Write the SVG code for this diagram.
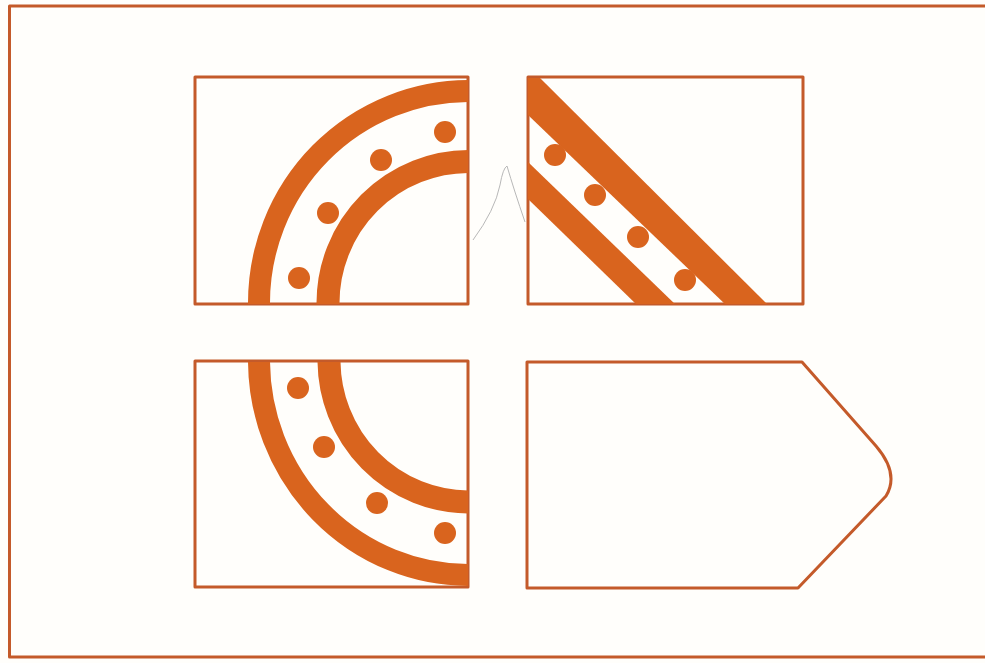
<svg xmlns="http://www.w3.org/2000/svg" width="985" height="663" viewBox="0 0 985 663">
<defs>
<style>
.frame{fill:none;stroke:#c45a2a;stroke-width:3;stroke-linejoin:round}
.box{fill:#fffefb;stroke:#c45a2a;stroke-width:3;stroke-linejoin:round}
.band{fill:none;stroke:#d9641e}
.fill{fill:#d9641e}
.dot{fill:#d9641e}
.pencil{fill:none;stroke:#b8b8b8;stroke-width:1}
</style>
<clipPath id="c1"><rect x="195" y="78" width="273" height="226"/></clipPath>
<clipPath id="c2"><rect x="528" y="78" width="275" height="226"/></clipPath>
<clipPath id="c3"><rect x="195" y="362" width="273" height="225"/></clipPath>
</defs>
<rect width="985" height="663" fill="#fffefb"/>
<path class="frame" d="M985,6 H9.5 V657 H985"/>
<path class="pencil" d="M473,240 Q495,210 500,185 Q503,168 507,166 Q514,190 525,222"/>
<g id="top-left">
<rect class="box" x="195" y="77" width="273" height="227"/>
<g clip-path="url(#c1)">
<ellipse class="band" cx="469" cy="303" rx="210" ry="212" stroke-width="22"/>
<ellipse class="band" cx="469" cy="303" rx="141" ry="141.5" stroke-width="23"/>
</g>
<circle class="dot" cx="445" cy="132" r="11"/>
<circle class="dot" cx="381" cy="160" r="11"/>
<circle class="dot" cx="328" cy="213" r="11"/>
<circle class="dot" cx="299" cy="278" r="11"/>
</g>
<g id="top-right">
<rect class="box" x="528" y="77" width="275" height="227"/>
<g clip-path="url(#c2)">
<polygon class="fill" points="526,76 538,76 769,306 727,306 526,113"/>
<polygon class="fill" points="526,160 677,306 638,306 526,197"/>
</g>
<circle class="dot" cx="555" cy="155" r="11"/>
<circle class="dot" cx="595" cy="195" r="11"/>
<circle class="dot" cx="638" cy="237" r="11"/>
<circle class="dot" cx="685" cy="280" r="11"/>
</g>
<g id="bottom-left">
<rect class="box" x="195" y="361" width="273" height="226"/>
<g clip-path="url(#c3)">
<ellipse class="band" cx="469" cy="360" rx="210" ry="215" stroke-width="22"/>
<ellipse class="band" cx="469" cy="360" rx="140" ry="142" stroke-width="23"/>
</g>
<circle class="dot" cx="298" cy="388" r="11"/>
<circle class="dot" cx="324" cy="447" r="11"/>
<circle class="dot" cx="377" cy="503" r="11"/>
<circle class="dot" cx="445" cy="533" r="11"/>
</g>
<g id="bottom-right">
<path class="box" d="M527,362 H802 L876,446 C888,460 897,478 886,496 L798,588 H527 Z"/>
</g>
</svg>
